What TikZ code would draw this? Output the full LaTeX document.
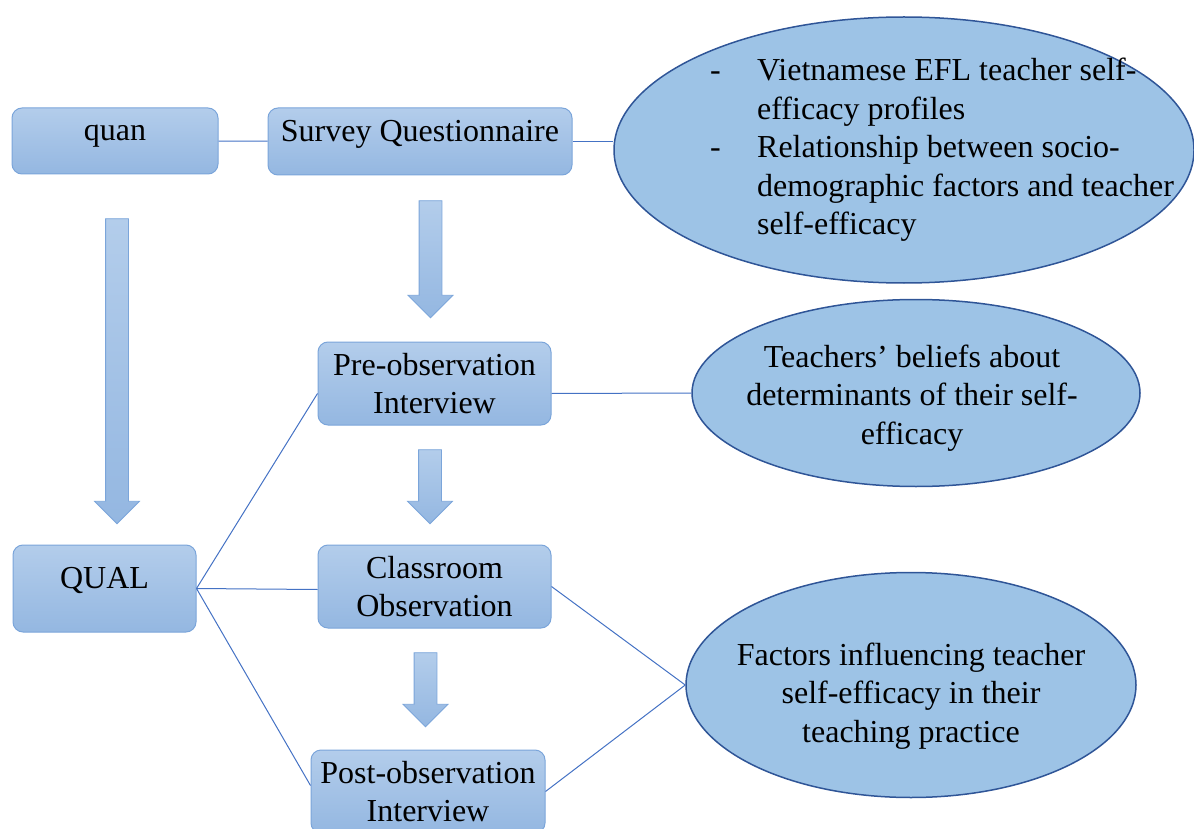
\documentclass[tikz,border=0pt]{standalone}
\usepackage{fontspec}
\setmainfont{Liberation Serif}
\usetikzlibrary{shapes.geometric,shapes.arrows}
\definecolor{boxtop}{HTML}{B3CDEB}
\definecolor{boxbot}{HTML}{94B7E1}
\definecolor{boxline}{HTML}{7BA5DA}
\definecolor{ellfill}{HTML}{9DC3E6}
\definecolor{ellline}{HTML}{2F5597}
\definecolor{conline}{HTML}{4472C4}
\begin{document}
\begin{tikzpicture}[x=1pt,y=-1pt,
  box/.style={draw=boxline, line width=1pt, rounded corners=10pt, top color=boxtop, bottom color=boxbot, font=\fontsize{32}{38.5}\selectfont, align=center, inner sep=0pt},
  goal/.style={ellipse, draw=ellline, line width=1.5pt, fill=ellfill, inner sep=0pt},
  goaltext/.style={font=\fontsize{32}{38.5}\selectfont, align=center, inner sep=0pt},
  flow/.style={single arrow, shape border rotate=270, draw=boxline, line width=.8pt, top color=boxtop, bottom color=boxbot, text width=0pt, text height=0pt, text depth=0pt, inner sep=11pt, single arrow head extend=11pt, single arrow tip angle=90},
  link/.style={draw=conline, line width=1pt}]
\useasboundingbox (0,0) rectangle (1194,829);

\node[box, minimum width=206pt, text height=33pt, text depth=33pt] (quan) at (115,141) {quan};
\node[box, minimum width=304pt, text height=33.5pt, text depth=33.5pt] (survey) at (420,141.5) {Survey Questionnaire};
\node[box, minimum width=183pt, text height=43.5pt, text depth=43.5pt] (qual) at (104.5,588.5) {QUAL};
\node[box, minimum width=233pt, minimum height=83pt] (pre) at (434.5,383.5) {Pre-observation\\Interview};
\node[box, minimum width=233pt, minimum height=83pt] (class) at (434.5,586.5) {Classroom\\Observation};
\node[box, minimum width=234pt, minimum height=83pt] (post) at (428,791.5) {Post-observation\\Interview};

\node[flow, minimum height=305pt] (qarrow) at (117,365.5) {};
\node[flow, minimum height=117pt] (sarrow) at (430.5,253.5) {};
\node[flow, minimum height=74pt] (parrow) at (430,481) {};
\node[flow, minimum height=74pt] (carrow) at (425.5,684) {};

\node[goal, minimum width=580pt, minimum height=266pt] (survres) at (904,150) {};
\node[goaltext, align=left, anchor=west] (survtext) at (710,150)
  {\makebox[47pt][l]{-}Vietnamese EFL teacher self-\\\hspace*{47pt}efficacy profiles\\
   \makebox[47pt][l]{-}Relationship between socio-\\\hspace*{47pt}demographic factors and teacher\\\hspace*{47pt}self-efficacy};
\node[goal, minimum width=448pt, minimum height=187pt] (preres) at (916,393) {};
\node[goaltext] (pretext) at (912,398) {Teachers’ beliefs about\\determinants of their self-\\efficacy};
\node[goal, minimum width=450pt, minimum height=225pt] (obsres) at (911,685) {};
\node[goaltext] (obstext) at (911,696) {Factors influencing teacher\\self-efficacy in their\\teaching practice};

\draw[link] (quan) -- (survey);
\draw[link] (survey.east) -- (survey.east -| survres.west);
\draw[link] (qual.east) -- ([yshift=-10pt]pre.west);
\draw[link] (qual.east) -- ([yshift=-3pt]class.west);
\draw[link] (qual.east) -- ([yshift=6pt]post.west);
\draw[link] ([yshift=-10pt]pre.east) -- (preres.west);
\draw[link] (class.east) -- (obsres.west);
\draw[link] (post.east) -- (obsres.west);
\end{tikzpicture}
\end{document}
